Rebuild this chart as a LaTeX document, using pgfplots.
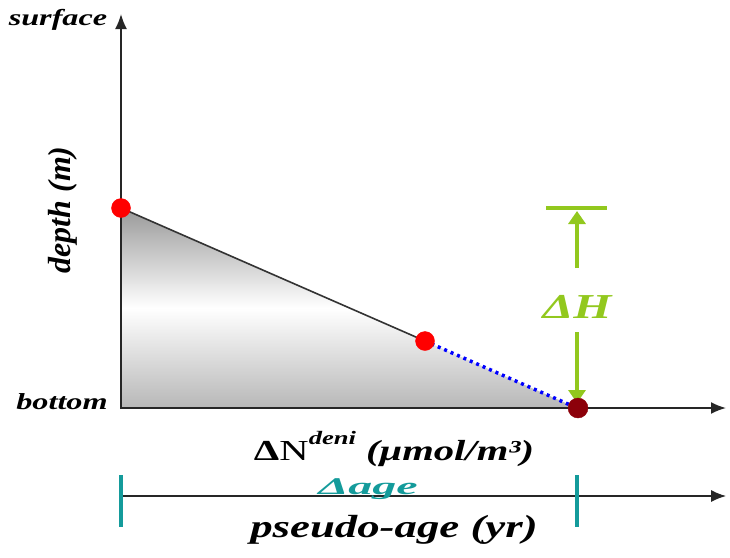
\documentclass[border=0pt]{standalone}
\usepackage{pgfplots}
\pgfplotsset{compat=1.18}
\usetikzlibrary{arrows.meta}
\usepackage{fontspec}
\setmainfont{Liberation Serif}
\newfontfamily\st[FakeStretch=1.4]{Liberation Serif}
\newfontfamily\stw[FakeStretch=2.0]{Liberation Serif}
\definecolor{limeg}{RGB}{146,200,30}
\definecolor{tealc}{RGB}{20,155,155}
\definecolor{dred}{RGB}{140,0,10}
\begin{document}
\begin{tikzpicture}
\begin{axis}[width=730pt,height=557pt,scale only axis,hide axis,clip=false,
  xmin=0,xmax=730,ymin=0,ymax=557,y dir=reverse]
% frame for bounding box
\addplot[draw=none,forget plot] coordinates {(0,0) (730,557)};
% shaded area
\addplot[draw=none, top color=black!40, bottom color=black!28, middle color=white]
  coordinates {(121,208) (425,341) (577,408) (121,408)} -- cycle;
% blue dotted segment
\addplot[blue, line width=3.5pt, dash pattern=on 3pt off 4pt] coordinates {(425,341) (577,408)};
% solid profile line
\addplot[black!80, line width=1.6pt] coordinates {(121,208) (425,341)};
% axes
\addplot[-{Latex[length=15pt,width=12pt]}, line width=1.8pt, black!85] coordinates {(121,409) (121,14)};
\addplot[-{Latex[length=15pt,width=12pt]}, line width=1.8pt, black!85] coordinates {(120,408) (726,408)};
\addplot[-{Latex[length=15pt,width=12pt]}, line width=1.2pt, black!85] coordinates {(121,496) (726,496)};
% teal ticks
\addplot[tealc, line width=3.5pt] coordinates {(121,475) (121,527)};
\addplot[tealc, line width=3.5pt] coordinates {(577,475) (577,527)};
% points
\addplot[only marks, mark=*, mark size=9.5pt, color=red] coordinates {(121,208) (425,341)};
\addplot[only marks, mark=*, mark size=10pt, color=dred] coordinates {(578,408)};
% Delta H
\addplot[limeg, line width=3.5pt] coordinates {(546,208) (607,208)};
\addplot[-{Triangle[length=13pt,width=17pt]}, limeg, line width=3.5pt] coordinates {(577,268) (577,211)};
\addplot[-{Triangle[length=13pt,width=17pt]}, limeg, line width=3.5pt] coordinates {(577,332) (577,403)};
% texts
\node[font=\st\fontsize{23}{26}\selectfont\bfseries\itshape] at (58,20) {surface};
\node[font=\st\fontsize{23}{26}\selectfont\bfseries\itshape] at (62,402) {bottom};
\node[font=\fontsize{32}{36}\selectfont\bfseries\itshape, rotate=90] at (63,210) {depth (m)};
\node[font=\st\fontsize{35}{40}\selectfont\bfseries\itshape, text=limeg] at (577,307) {ΔH};
\node[font=\st\fontsize{29}{34}\selectfont] at (394,449) {{\bfseries Δ}N\raisebox{0.55em}{\fontsize{19}{20}\selectfont\bfseries\itshape deni} {\bfseries\itshape (μmol/m³)}};
\node[font=\stw\fontsize{24}{28}\selectfont\bfseries\itshape, text=tealc] at (368,489) {Δage};
\node[font=\st\fontsize{32}{36}\selectfont\bfseries\itshape] at (394,530) {pseudo-age (yr)};
\end{axis}
\end{tikzpicture}
\end{document}
